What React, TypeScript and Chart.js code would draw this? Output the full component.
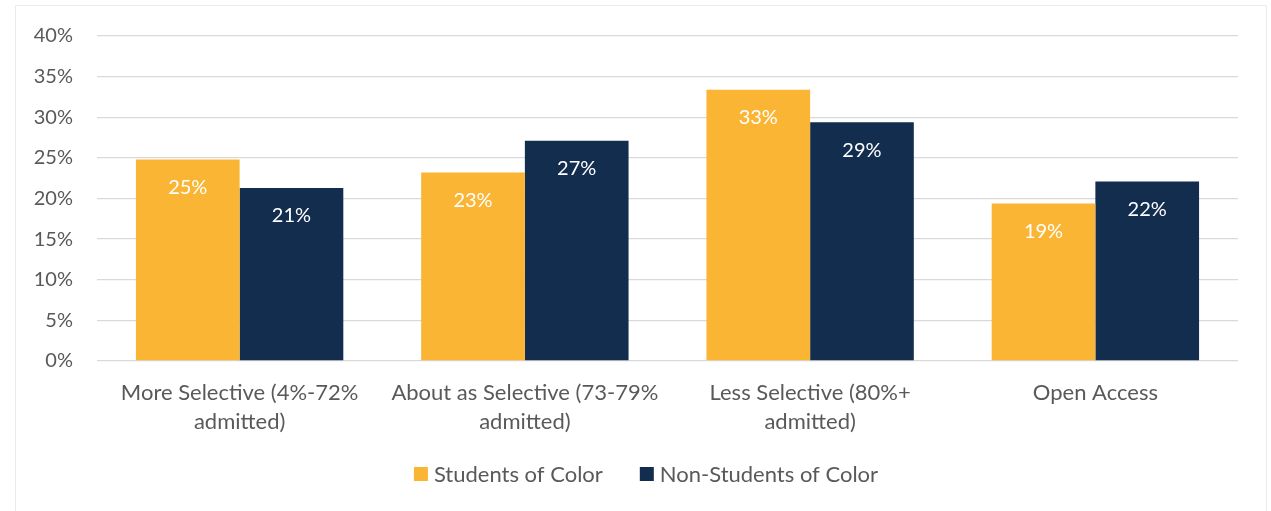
import React, { useEffect, useRef } from "react";
import { Chart, registerables } from "chart.js";

Chart.register(...registerables);

const categories: string[][] = [
  ["More Selective (4%-72%", "admitted)"],
  ["About as Selective (73-79%", "admitted)"],
  ["Less Selective (80%+", "admitted)"],
  ["Open Access"],
];
const seriesNames = ["Students of Color", "Non-Students of Color"];
const studentsOfColor = [24.8, 23.2, 33.4, 19.4];
const nonStudentsOfColor = [21.3, 27.1, 29.4, 22.1];
const yMax = 40;
const yStep = 5;

const ORANGE = "#FBB535";
const NAVY = "#132D4F";
const TEXT = "#595959";
const FONT = "Lato";

const barLabels = {
  id: "barLabels",
  afterDatasetsDraw(chart: any) {
    const ctx = chart.ctx;
    ctx.save();
    ctx.font = `20px ${FONT}`;
    ctx.fillStyle = "#ffffff";
    ctx.textAlign = "center";
    ctx.textBaseline = "middle";
    chart.data.datasets.forEach((ds: any, i: number) => {
      const meta = chart.getDatasetMeta(i);
      meta.data.forEach((bar: any, j: number) => {
        ctx.fillText(Math.round(ds.data[j]) + "%", bar.x, bar.y + 28);
      });
    });
    ctx.restore();
  },
};

const customLegend = {
  id: "customLegend",
  afterDraw(chart: any) {
    const ctx = chart.ctx;
    ctx.save();
    ctx.font = `22px ${FONT}`;
    ctx.textBaseline = "middle";
    ctx.textAlign = "left";
    const box = 14;
    const gap = 6;
    const itemGap = 37;
    const items = chart.data.datasets.map((ds: any) => ({
      label: ds.label,
      color: ds.backgroundColor,
      w: box + gap + ctx.measureText(ds.label).width,
    }));
    const total = items.reduce((s: number, it: any) => s + it.w, 0) + itemGap * (items.length - 1);
    let x = 646 - total / 2;
    const y = 474;
    items.forEach((it: any) => {
      ctx.fillStyle = it.color;
      ctx.fillRect(x, y - box / 2, box, box);
      ctx.fillStyle = TEXT;
      ctx.fillText(it.label, x + box + gap, y + 1);
      x += it.w + itemGap;
    });
    ctx.restore();
  },
};

export default function App() {
  const ref = useRef<HTMLCanvasElement>(null);
  useEffect(() => {
    if (!ref.current) return;
    const chart = new Chart(ref.current, {
      type: "bar",
      data: {
        labels: categories,
        datasets: [
          { label: seriesNames[0], data: studentsOfColor, backgroundColor: ORANGE },
          { label: seriesNames[1], data: nonStudentsOfColor, backgroundColor: NAVY },
        ],
      },
      options: {
        animation: false,
        responsive: true,
        maintainAspectRatio: false,
        layout: { padding: { left: 0, right: 33, top: 35, bottom: 70 } },
        datasets: { bar: { categoryPercentage: 0.727, barPercentage: 1 } },
        plugins: { legend: { display: false }, tooltip: { enabled: false } },
        scales: {
          x: {
            grid: { display: false, drawTicks: false },
            border: { display: false },
            ticks: {
              color: TEXT,
              font: { family: FONT, size: 22, lineHeight: 1.32 },
              padding: 17,
              maxRotation: 0,
              autoSkip: false,
            },
            afterFit(scale: any) {
              scale.height = 80;
            },
          },
          y: {
            min: 0,
            max: yMax,
            grid: { color: "#d9d9d9", lineWidth: 1.3, drawTicks: false },
            border: { display: false },
            ticks: {
              stepSize: yStep,
              color: TEXT,
              font: { family: FONT, size: 20 },
              padding: 24,
              callback: (v: any) => v + "%",
            },
            afterFit(scale: any) {
              scale.width = 97;
            },
          },
        },
      },
      plugins: [barLabels, customLegend],
    });
    if ((document as any).fonts) {
      (document as any).fonts.load(`20px ${FONT}`).then(() => chart.update()).catch(() => {});
    }
    return () => chart.destroy();
  }, []);

  return (
    <div style={{ position: "fixed", left: 0, top: 0, width: 1271, height: 511, background: "#fff", overflow: "hidden" }}>
      <div
        style={{
          position: "absolute",
          left: 15,
          top: 5,
          width: 1252,
          height: 530,
          boxSizing: "border-box",
          border: "1.5px solid #e8ecf0",
        }}
      />
      <div style={{ position: "absolute", left: 0, top: 0, width: 1271, height: 511 }}>
        <canvas ref={ref} />
      </div>
    </div>
  );
}
